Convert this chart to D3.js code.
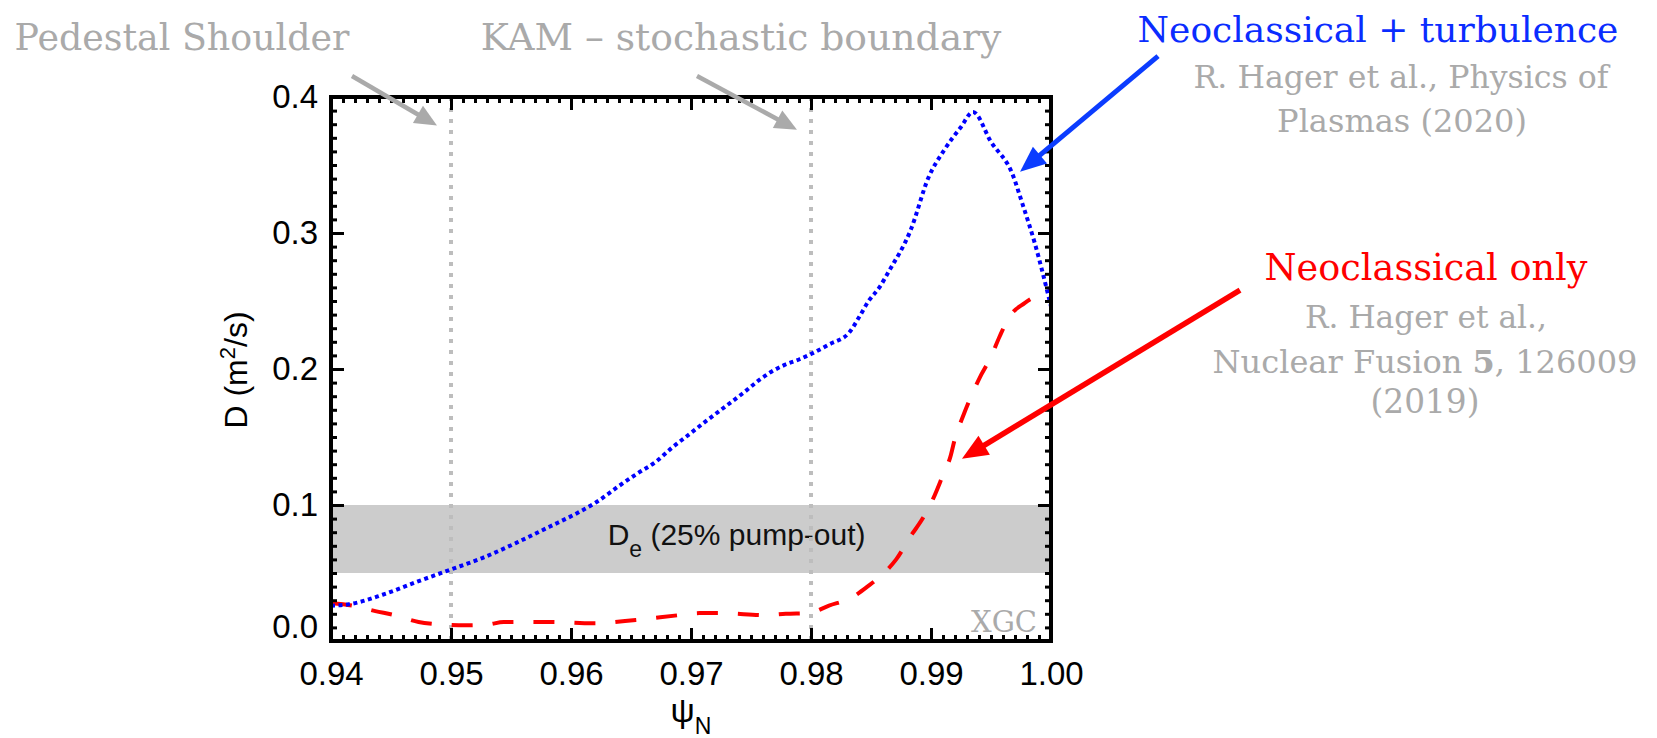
<!DOCTYPE html>
<html>
<head>
<meta charset="utf-8">
<script src="https://cdn.jsdelivr.net/npm/d3@7"></script>
<style>
  body { margin: 0; background: #fff; }
  svg { display: block; }
</style>
</head>
<body>
<script>
// values
const xTicks = [0.94, 0.95, 0.96, 0.97, 0.98, 0.99, 1.00];
const yTicks = [0.0, 0.1, 0.2, 0.3, 0.4];

// neoclassical + turbulence (blue dotted)
const psiTurb = [0.9400, 0.9415, 0.9443, 0.9470, 0.9498, 0.9526, 0.9554, 0.9582, 0.9605, 0.9621,
  0.9640, 0.9655, 0.9671, 0.9684, 0.9700, 0.9713, 0.9728, 0.9743, 0.9757, 0.9767,
  0.9778, 0.9790, 0.9800, 0.9815, 0.9832, 0.9840, 0.9848, 0.9857, 0.9865, 0.9883,
  0.9898, 0.9911, 0.9925, 0.9935, 0.9950, 0.9968, 0.9976, 0.9986, 1.0000];
const dTurb = [0.026, 0.027, 0.034, 0.043, 0.052, 0.061, 0.072, 0.084, 0.094, 0.102,
  0.114, 0.123, 0.132, 0.142, 0.153, 0.162, 0.172, 0.182, 0.192, 0.198,
  0.203, 0.207, 0.211, 0.218, 0.227, 0.238, 0.250, 0.260, 0.272, 0.302,
  0.341, 0.361, 0.378, 0.389, 0.367, 0.343, 0.322, 0.294, 0.246];

// neoclassical only (red dashed)
const psiNeo = [0.9400, 0.9418, 0.9437, 0.9453, 0.9473, 0.9487, 0.9512, 0.9530, 0.9544, 0.9582,
  0.9618, 0.9654, 0.9690, 0.9707, 0.9726, 0.9762, 0.9779, 0.9798, 0.9815, 0.9834,
  0.9847, 0.9862, 0.9871, 0.9883, 0.9893, 0.9902, 0.9910, 0.9916, 0.9920, 0.9927,
  0.9933, 0.9942, 0.9950, 0.9957, 0.9965, 0.9978, 1.0000];
const dNeo = [0.028, 0.026, 0.022, 0.019, 0.014, 0.0125, 0.0115, 0.012, 0.014, 0.014,
  0.013, 0.0155, 0.019, 0.0205, 0.0205, 0.019, 0.020, 0.0205, 0.026, 0.032,
  0.040, 0.051, 0.060, 0.077, 0.090, 0.105, 0.122, 0.135, 0.149, 0.166,
  0.179, 0.196, 0.209, 0.2235, 0.238, 0.2485, 0.258];

const pumpOutBand = [0.05, 0.1];
const markerLines = [0.95, 0.98];

const W = 1657, H = 738;
const sans = "Helvetica, 'Liberation Sans', Arial, sans-serif";
const serif = "Georgia, 'DejaVu Serif', serif";

const svg = d3.select("body").append("svg")
  .attr("width", W)
  .attr("height", H);

const x = d3.scaleLinear().domain([0.94, 1.00]).range([331, 1051]);
const y = d3.scaleLinear().domain([0, 0.4]).range([641, 97]);

// shrink/grow a text so it spans the wanted width
function fit(sel, w) {
  const len = sel.node().getComputedTextLength();
  sel.attr("font-size", parseFloat(sel.attr("font-size")) * w / len);
  return sel;
}

// grey band
svg.append("rect")
  .attr("x", x(0.94))
  .attr("width", x(1.0) - x(0.94))
  .attr("y", y(pumpOutBand[1]))
  .attr("height", y(pumpOutBand[0]) - y(pumpOutBand[1]))
  .attr("fill", "#cccccc");

const bandText = svg.append("text")
  .attr("x", x(0.9738))
  .attr("y", (y(pumpOutBand[0]) + y(pumpOutBand[1])) / 2 + 6)
  .attr("text-anchor", "middle")
  .attr("font-family", sans)
  .attr("font-size", 30)
  .attr("fill", "#111");
bandText.append("tspan").text("D");
bandText.append("tspan").attr("font-size", 23).attr("dy", 12).text("e");
bandText.append("tspan").attr("dy", -12).text(" (25% pump-out)");

// vertical markers
svg.selectAll(".marker")
  .data(markerLines)
  .enter().append("line")
  .attr("class", "marker")
  .attr("x1", d => x(d)).attr("x2", d => x(d))
  .attr("y1", y(0.4)).attr("y2", y(0))
  .attr("stroke", "#bdbdbd")
  .attr("stroke-width", 4)
  .attr("stroke-dasharray", "4,7");

const line = d3.line()
  .x(d => x(d[0]))
  .y(d => y(d[1]))
  .curve(d3.curveMonotoneX);

svg.append("path")
  .datum(d3.zip(psiNeo, dNeo))
  .attr("d", line)
  .attr("fill", "none")
  .attr("stroke", "#ff0000")
  .attr("stroke-width", 4)
  .attr("stroke-dasharray", "21,20");

svg.append("path")
  .datum(d3.zip(psiTurb, dTurb))
  .attr("d", line)
  .attr("fill", "none")
  .attr("stroke", "#0000ff")
  .attr("stroke-width", 4)
  .attr("stroke-dasharray", "4,3.5");

// axes, ticks inward on all four sides
function ticks(g, axis) {
  g.call(axis);
  g.select(".domain").remove();
  g.selectAll(".tick line").attr("stroke", "#000").attr("stroke-width", 3);
}

const bottomAx = svg.append("g").attr("transform", "translate(0," + y(0) + ")");
ticks(bottomAx.append("g"), d3.axisBottom(x).ticks(60).tickSize(-6).tickFormat(""));
ticks(bottomAx.append("g"), d3.axisBottom(x).tickValues(xTicks).tickSize(-13).tickPadding(21).tickFormat(d3.format(".2f")));

const topAx = svg.append("g").attr("transform", "translate(0," + y(0.4) + ")");
ticks(topAx.append("g"), d3.axisTop(x).ticks(60).tickSize(-6).tickFormat(""));
ticks(topAx.append("g"), d3.axisTop(x).tickValues(xTicks).tickSize(-13).tickFormat(""));

const leftAx = svg.append("g").attr("transform", "translate(" + x(0.94) + ",0)");
ticks(leftAx.append("g"), d3.axisLeft(y).ticks(40).tickSize(-6).tickFormat(""));
ticks(leftAx.append("g"), d3.axisLeft(y).tickValues(yTicks).tickSize(-13).tickPadding(13).tickFormat(d3.format(".1f")));

const rightAx = svg.append("g").attr("transform", "translate(" + x(1.0) + ",0)");
ticks(rightAx.append("g"), d3.axisRight(y).ticks(40).tickSize(-6).tickFormat(""));
ticks(rightAx.append("g"), d3.axisRight(y).tickValues(yTicks).tickSize(-13).tickFormat(""));

svg.selectAll(".tick text")
  .attr("font-family", sans)
  .attr("font-size", 33)
  .attr("fill", "#000");

// the 0.0 label sits a little above its tick
leftAx.selectAll(".tick text").filter(d => d === 0).attr("dy", "-0.12em");

svg.append("rect")
  .attr("x", x(0.94))
  .attr("y", y(0.4))
  .attr("width", x(1.0) - x(0.94))
  .attr("height", y(0) - y(0.4))
  .attr("fill", "none")
  .attr("stroke", "#000")
  .attr("stroke-width", 4);

// axis titles
const yLabel = svg.append("text")
  .attr("transform", "translate(247," + (y(0.2) + 1) + ") rotate(-90)")
  .attr("text-anchor", "middle")
  .attr("font-family", sans)
  .attr("font-size", 32)
  .attr("fill", "#000");
yLabel.append("tspan").text("D (m");
yLabel.append("tspan").attr("font-size", 22).attr("dy", -12).text("2");
yLabel.append("tspan").attr("dy", 12).text("/s)");

const xLabel = svg.append("text")
  .attr("x", x(0.97))
  .attr("y", 722)
  .attr("text-anchor", "middle")
  .attr("font-family", sans)
  .attr("font-size", 34)
  .attr("fill", "#000");
xLabel.append("tspan").text("ψ");
xLabel.append("tspan").attr("font-size", 23).attr("dy", 12).text("N");

svg.append("text")
  .attr("x", 1037)
  .attr("y", 632)
  .attr("text-anchor", "end")
  .attr("font-family", serif)
  .attr("font-size", 29)
  .attr("fill", "#aaaaaa")
  .text("XGC");

// annotations
function note(txt, cx, base, w, color) {
  const t = svg.append("text")
    .attr("x", cx)
    .attr("y", base)
    .attr("text-anchor", "middle")
    .attr("font-family", serif)
    .attr("font-size", 36)
    .attr("fill", color)
    .text(txt);
  return fit(t, w);
}

note("Pedestal Shoulder", 182, 50, 335, "#aaaaaa");
note("KAM \u2013 stochastic boundary", 741, 50, 521, "#aaaaaa");
note("Neoclassical + turbulence", 1378, 42, 481, "#0a2cff");
note("R. Hager et al., Physics of", 1401, 88, 415, "#aaaaaa");
note("Plasmas (2020)", 1402, 132, 250, "#aaaaaa");
note("Neoclassical only", 1426, 280, 323, "#ff0000");
note("R. Hager et al.,", 1426, 328, 242, "#aaaaaa");
const nf = svg.append("text")
  .attr("x", 1425)
  .attr("y", 373)
  .attr("text-anchor", "middle")
  .attr("font-family", serif)
  .attr("font-size", 36)
  .attr("fill", "#aaaaaa");
nf.append("tspan").text("Nuclear Fusion ");
nf.append("tspan").attr("font-weight", "bold").text("5");
nf.append("tspan").text(", 126009");
fit(nf, 425);
note("(2019)", 1425, 413, 109, "#aaaaaa");

// arrows, endpoints in data units
function arrow(p0, p1, color, width, headLen, headHalf) {
  const x0 = x(p0[0]), y0 = y(p0[1]), x1 = x(p1[0]), y1 = y(p1[1]);
  const a = Math.atan2(y1 - y0, x1 - x0);
  const bx = x1 - headLen * Math.cos(a), by = y1 - headLen * Math.sin(a);
  svg.append("line")
    .attr("x1", x0).attr("y1", y0)
    .attr("x2", bx + 2 * Math.cos(a)).attr("y2", by + 2 * Math.sin(a))
    .attr("stroke", color)
    .attr("stroke-width", width);
  const nx = -Math.sin(a) * headHalf, ny = Math.cos(a) * headHalf;
  svg.append("polygon")
    .attr("points", [[x1, y1], [bx + nx, by + ny], [bx - nx, by - ny]].map(p => p.join(",")).join(" "))
    .attr("fill", color);
}

arrow([0.94175, 0.4154], [0.94883, 0.379], "#aaaaaa", 4.5, 22, 10);
arrow([0.9705, 0.4154], [0.97883, 0.376], "#aaaaaa", 4.5, 22, 10);
arrow([1.00892, 0.430], [0.99742, 0.345], "#0b3cff", 5, 26, 11);
arrow([1.01575, 0.258], [0.99258, 0.134], "#ff0000", 5.5, 26, 11);
</script>
</body>
</html>
